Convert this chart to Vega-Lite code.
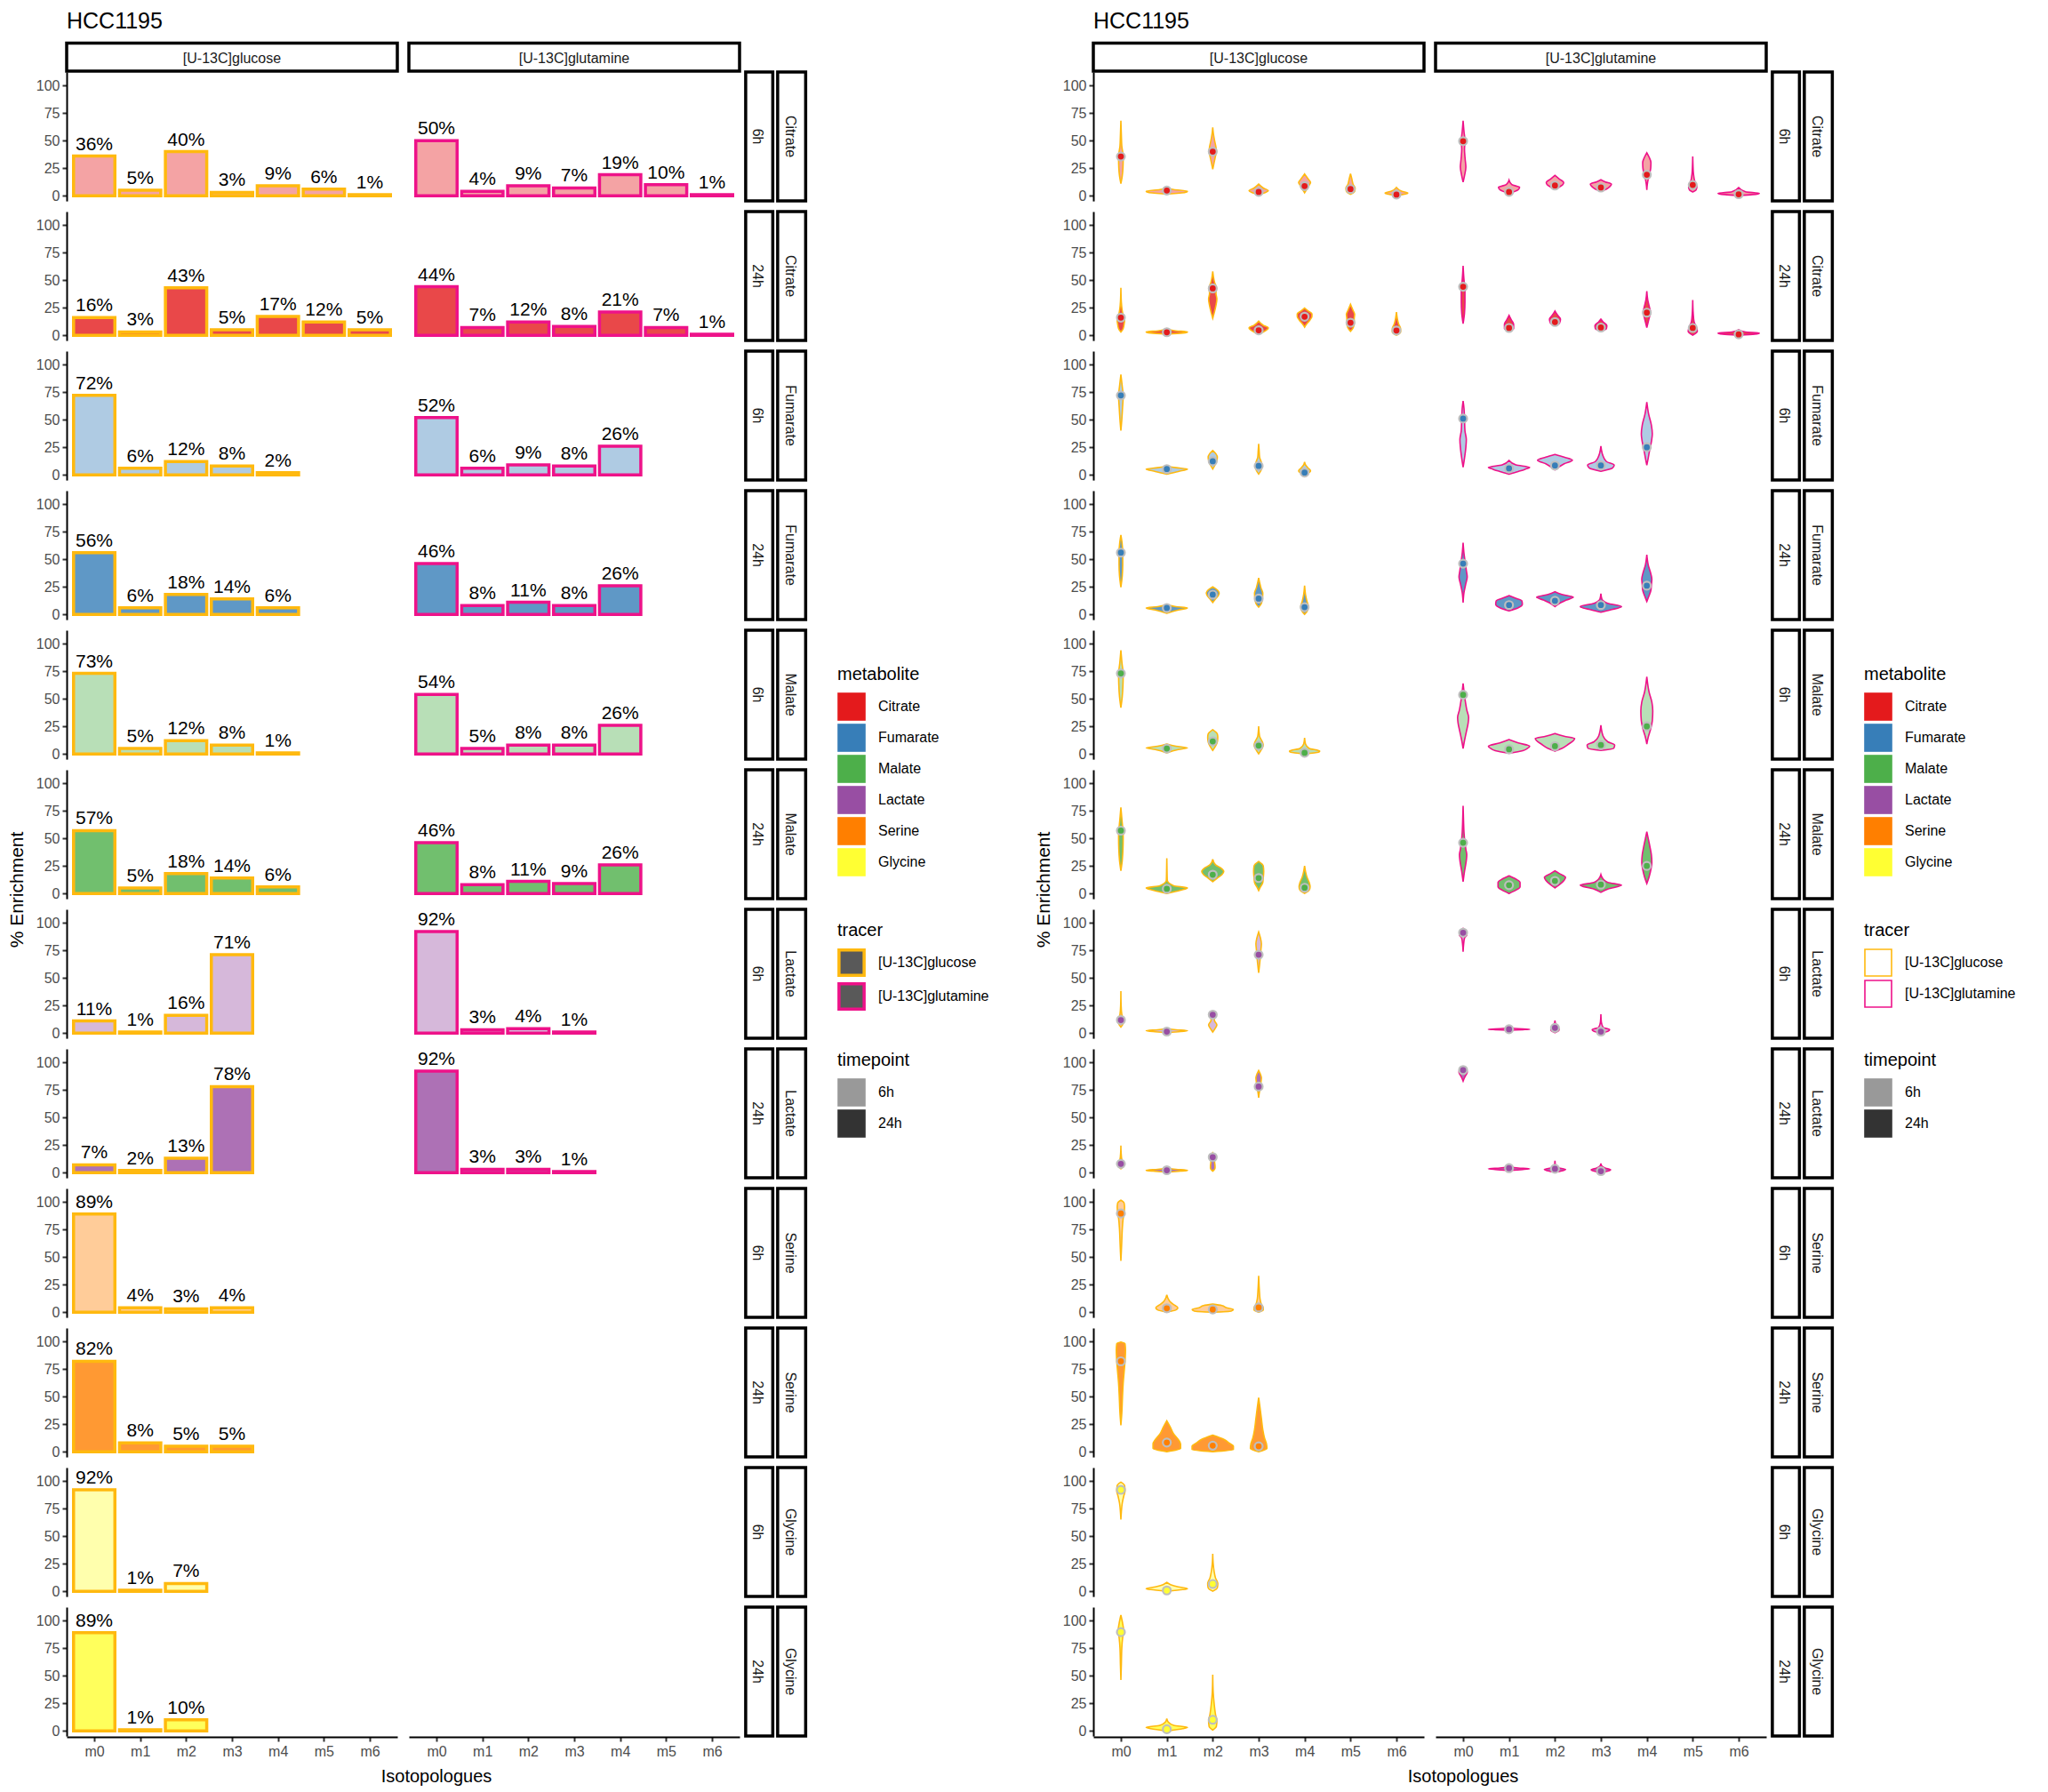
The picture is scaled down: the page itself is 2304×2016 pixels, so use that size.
{
  "$schema": "https://vega.github.io/schema/vega-lite/v6.json",
  "background": "white",
  "padding": {"left": 8, "top": 11, "right": 0, "bottom": 0},
  "config": {
    "font": "Liberation Sans",
    "view": {"stroke": null},
    "axis": {"grid": false, "domainColor": "black", "domainWidth": 2, "tickColor": "#333333", "tickWidth": 2, "tickSize": 5, "labelColor": "#4D4D4D", "labelFontSize": 16, "labelPadding": 3, "labelOverlap": false},
    "legend": {"titleFontSize": 20, "titleFontWeight": "normal", "titleColor": "black", "labelFontSize": 16, "labelColor": "black", "symbolType": "square", "symbolSize": 1000, "rowPadding": 3, "labelOffset": 14, "titlePadding": 10},
    "title": {"fontSize": 25, "fontWeight": "normal", "anchor": "start", "frame": "group", "color": "black", "offset": 10},
    "concat": {"spacing": 50}
  },
  "datasets": {
    "bars": [
      {"row":"01|Citrate|6h","met":"Citrate","tp":"6h","tr":"[U-13C]glucose","i":0,"v":0.36},
      {"row":"01|Citrate|6h","met":"Citrate","tp":"6h","tr":"[U-13C]glucose","i":1,"v":0.05},
      {"row":"01|Citrate|6h","met":"Citrate","tp":"6h","tr":"[U-13C]glucose","i":2,"v":0.40},
      {"row":"01|Citrate|6h","met":"Citrate","tp":"6h","tr":"[U-13C]glucose","i":3,"v":0.03},
      {"row":"01|Citrate|6h","met":"Citrate","tp":"6h","tr":"[U-13C]glucose","i":4,"v":0.09},
      {"row":"01|Citrate|6h","met":"Citrate","tp":"6h","tr":"[U-13C]glucose","i":5,"v":0.06},
      {"row":"01|Citrate|6h","met":"Citrate","tp":"6h","tr":"[U-13C]glucose","i":6,"v":0.01},
      {"row":"01|Citrate|6h","met":"Citrate","tp":"6h","tr":"[U-13C]glutamine","i":0,"v":0.50},
      {"row":"01|Citrate|6h","met":"Citrate","tp":"6h","tr":"[U-13C]glutamine","i":1,"v":0.04},
      {"row":"01|Citrate|6h","met":"Citrate","tp":"6h","tr":"[U-13C]glutamine","i":2,"v":0.09},
      {"row":"01|Citrate|6h","met":"Citrate","tp":"6h","tr":"[U-13C]glutamine","i":3,"v":0.07},
      {"row":"01|Citrate|6h","met":"Citrate","tp":"6h","tr":"[U-13C]glutamine","i":4,"v":0.19},
      {"row":"01|Citrate|6h","met":"Citrate","tp":"6h","tr":"[U-13C]glutamine","i":5,"v":0.10},
      {"row":"01|Citrate|6h","met":"Citrate","tp":"6h","tr":"[U-13C]glutamine","i":6,"v":0.01},
      {"row":"02|Citrate|24h","met":"Citrate","tp":"24h","tr":"[U-13C]glucose","i":0,"v":0.16},
      {"row":"02|Citrate|24h","met":"Citrate","tp":"24h","tr":"[U-13C]glucose","i":1,"v":0.03},
      {"row":"02|Citrate|24h","met":"Citrate","tp":"24h","tr":"[U-13C]glucose","i":2,"v":0.43},
      {"row":"02|Citrate|24h","met":"Citrate","tp":"24h","tr":"[U-13C]glucose","i":3,"v":0.05},
      {"row":"02|Citrate|24h","met":"Citrate","tp":"24h","tr":"[U-13C]glucose","i":4,"v":0.17},
      {"row":"02|Citrate|24h","met":"Citrate","tp":"24h","tr":"[U-13C]glucose","i":5,"v":0.12},
      {"row":"02|Citrate|24h","met":"Citrate","tp":"24h","tr":"[U-13C]glucose","i":6,"v":0.05},
      {"row":"02|Citrate|24h","met":"Citrate","tp":"24h","tr":"[U-13C]glutamine","i":0,"v":0.44},
      {"row":"02|Citrate|24h","met":"Citrate","tp":"24h","tr":"[U-13C]glutamine","i":1,"v":0.07},
      {"row":"02|Citrate|24h","met":"Citrate","tp":"24h","tr":"[U-13C]glutamine","i":2,"v":0.12},
      {"row":"02|Citrate|24h","met":"Citrate","tp":"24h","tr":"[U-13C]glutamine","i":3,"v":0.08},
      {"row":"02|Citrate|24h","met":"Citrate","tp":"24h","tr":"[U-13C]glutamine","i":4,"v":0.21},
      {"row":"02|Citrate|24h","met":"Citrate","tp":"24h","tr":"[U-13C]glutamine","i":5,"v":0.07},
      {"row":"02|Citrate|24h","met":"Citrate","tp":"24h","tr":"[U-13C]glutamine","i":6,"v":0.01},
      {"row":"03|Fumarate|6h","met":"Fumarate","tp":"6h","tr":"[U-13C]glucose","i":0,"v":0.72},
      {"row":"03|Fumarate|6h","met":"Fumarate","tp":"6h","tr":"[U-13C]glucose","i":1,"v":0.06},
      {"row":"03|Fumarate|6h","met":"Fumarate","tp":"6h","tr":"[U-13C]glucose","i":2,"v":0.12},
      {"row":"03|Fumarate|6h","met":"Fumarate","tp":"6h","tr":"[U-13C]glucose","i":3,"v":0.08},
      {"row":"03|Fumarate|6h","met":"Fumarate","tp":"6h","tr":"[U-13C]glucose","i":4,"v":0.02},
      {"row":"03|Fumarate|6h","met":"Fumarate","tp":"6h","tr":"[U-13C]glutamine","i":0,"v":0.52},
      {"row":"03|Fumarate|6h","met":"Fumarate","tp":"6h","tr":"[U-13C]glutamine","i":1,"v":0.06},
      {"row":"03|Fumarate|6h","met":"Fumarate","tp":"6h","tr":"[U-13C]glutamine","i":2,"v":0.09},
      {"row":"03|Fumarate|6h","met":"Fumarate","tp":"6h","tr":"[U-13C]glutamine","i":3,"v":0.08},
      {"row":"03|Fumarate|6h","met":"Fumarate","tp":"6h","tr":"[U-13C]glutamine","i":4,"v":0.26},
      {"row":"04|Fumarate|24h","met":"Fumarate","tp":"24h","tr":"[U-13C]glucose","i":0,"v":0.56},
      {"row":"04|Fumarate|24h","met":"Fumarate","tp":"24h","tr":"[U-13C]glucose","i":1,"v":0.06},
      {"row":"04|Fumarate|24h","met":"Fumarate","tp":"24h","tr":"[U-13C]glucose","i":2,"v":0.18},
      {"row":"04|Fumarate|24h","met":"Fumarate","tp":"24h","tr":"[U-13C]glucose","i":3,"v":0.14},
      {"row":"04|Fumarate|24h","met":"Fumarate","tp":"24h","tr":"[U-13C]glucose","i":4,"v":0.06},
      {"row":"04|Fumarate|24h","met":"Fumarate","tp":"24h","tr":"[U-13C]glutamine","i":0,"v":0.46},
      {"row":"04|Fumarate|24h","met":"Fumarate","tp":"24h","tr":"[U-13C]glutamine","i":1,"v":0.08},
      {"row":"04|Fumarate|24h","met":"Fumarate","tp":"24h","tr":"[U-13C]glutamine","i":2,"v":0.11},
      {"row":"04|Fumarate|24h","met":"Fumarate","tp":"24h","tr":"[U-13C]glutamine","i":3,"v":0.08},
      {"row":"04|Fumarate|24h","met":"Fumarate","tp":"24h","tr":"[U-13C]glutamine","i":4,"v":0.26},
      {"row":"05|Malate|6h","met":"Malate","tp":"6h","tr":"[U-13C]glucose","i":0,"v":0.73},
      {"row":"05|Malate|6h","met":"Malate","tp":"6h","tr":"[U-13C]glucose","i":1,"v":0.05},
      {"row":"05|Malate|6h","met":"Malate","tp":"6h","tr":"[U-13C]glucose","i":2,"v":0.12},
      {"row":"05|Malate|6h","met":"Malate","tp":"6h","tr":"[U-13C]glucose","i":3,"v":0.08},
      {"row":"05|Malate|6h","met":"Malate","tp":"6h","tr":"[U-13C]glucose","i":4,"v":0.01},
      {"row":"05|Malate|6h","met":"Malate","tp":"6h","tr":"[U-13C]glutamine","i":0,"v":0.54},
      {"row":"05|Malate|6h","met":"Malate","tp":"6h","tr":"[U-13C]glutamine","i":1,"v":0.05},
      {"row":"05|Malate|6h","met":"Malate","tp":"6h","tr":"[U-13C]glutamine","i":2,"v":0.08},
      {"row":"05|Malate|6h","met":"Malate","tp":"6h","tr":"[U-13C]glutamine","i":3,"v":0.08},
      {"row":"05|Malate|6h","met":"Malate","tp":"6h","tr":"[U-13C]glutamine","i":4,"v":0.26},
      {"row":"06|Malate|24h","met":"Malate","tp":"24h","tr":"[U-13C]glucose","i":0,"v":0.57},
      {"row":"06|Malate|24h","met":"Malate","tp":"24h","tr":"[U-13C]glucose","i":1,"v":0.05},
      {"row":"06|Malate|24h","met":"Malate","tp":"24h","tr":"[U-13C]glucose","i":2,"v":0.18},
      {"row":"06|Malate|24h","met":"Malate","tp":"24h","tr":"[U-13C]glucose","i":3,"v":0.14},
      {"row":"06|Malate|24h","met":"Malate","tp":"24h","tr":"[U-13C]glucose","i":4,"v":0.06},
      {"row":"06|Malate|24h","met":"Malate","tp":"24h","tr":"[U-13C]glutamine","i":0,"v":0.46},
      {"row":"06|Malate|24h","met":"Malate","tp":"24h","tr":"[U-13C]glutamine","i":1,"v":0.08},
      {"row":"06|Malate|24h","met":"Malate","tp":"24h","tr":"[U-13C]glutamine","i":2,"v":0.11},
      {"row":"06|Malate|24h","met":"Malate","tp":"24h","tr":"[U-13C]glutamine","i":3,"v":0.09},
      {"row":"06|Malate|24h","met":"Malate","tp":"24h","tr":"[U-13C]glutamine","i":4,"v":0.26},
      {"row":"07|Lactate|6h","met":"Lactate","tp":"6h","tr":"[U-13C]glucose","i":0,"v":0.11},
      {"row":"07|Lactate|6h","met":"Lactate","tp":"6h","tr":"[U-13C]glucose","i":1,"v":0.01},
      {"row":"07|Lactate|6h","met":"Lactate","tp":"6h","tr":"[U-13C]glucose","i":2,"v":0.16},
      {"row":"07|Lactate|6h","met":"Lactate","tp":"6h","tr":"[U-13C]glucose","i":3,"v":0.71},
      {"row":"07|Lactate|6h","met":"Lactate","tp":"6h","tr":"[U-13C]glutamine","i":0,"v":0.92},
      {"row":"07|Lactate|6h","met":"Lactate","tp":"6h","tr":"[U-13C]glutamine","i":1,"v":0.03},
      {"row":"07|Lactate|6h","met":"Lactate","tp":"6h","tr":"[U-13C]glutamine","i":2,"v":0.04},
      {"row":"07|Lactate|6h","met":"Lactate","tp":"6h","tr":"[U-13C]glutamine","i":3,"v":0.01},
      {"row":"08|Lactate|24h","met":"Lactate","tp":"24h","tr":"[U-13C]glucose","i":0,"v":0.07},
      {"row":"08|Lactate|24h","met":"Lactate","tp":"24h","tr":"[U-13C]glucose","i":1,"v":0.02},
      {"row":"08|Lactate|24h","met":"Lactate","tp":"24h","tr":"[U-13C]glucose","i":2,"v":0.13},
      {"row":"08|Lactate|24h","met":"Lactate","tp":"24h","tr":"[U-13C]glucose","i":3,"v":0.78},
      {"row":"08|Lactate|24h","met":"Lactate","tp":"24h","tr":"[U-13C]glutamine","i":0,"v":0.92},
      {"row":"08|Lactate|24h","met":"Lactate","tp":"24h","tr":"[U-13C]glutamine","i":1,"v":0.03},
      {"row":"08|Lactate|24h","met":"Lactate","tp":"24h","tr":"[U-13C]glutamine","i":2,"v":0.03},
      {"row":"08|Lactate|24h","met":"Lactate","tp":"24h","tr":"[U-13C]glutamine","i":3,"v":0.01},
      {"row":"09|Serine|6h","met":"Serine","tp":"6h","tr":"[U-13C]glucose","i":0,"v":0.89},
      {"row":"09|Serine|6h","met":"Serine","tp":"6h","tr":"[U-13C]glucose","i":1,"v":0.04},
      {"row":"09|Serine|6h","met":"Serine","tp":"6h","tr":"[U-13C]glucose","i":2,"v":0.03},
      {"row":"09|Serine|6h","met":"Serine","tp":"6h","tr":"[U-13C]glucose","i":3,"v":0.04},
      {"row":"10|Serine|24h","met":"Serine","tp":"24h","tr":"[U-13C]glucose","i":0,"v":0.82},
      {"row":"10|Serine|24h","met":"Serine","tp":"24h","tr":"[U-13C]glucose","i":1,"v":0.08},
      {"row":"10|Serine|24h","met":"Serine","tp":"24h","tr":"[U-13C]glucose","i":2,"v":0.05},
      {"row":"10|Serine|24h","met":"Serine","tp":"24h","tr":"[U-13C]glucose","i":3,"v":0.05},
      {"row":"11|Glycine|6h","met":"Glycine","tp":"6h","tr":"[U-13C]glucose","i":0,"v":0.92},
      {"row":"11|Glycine|6h","met":"Glycine","tp":"6h","tr":"[U-13C]glucose","i":1,"v":0.01},
      {"row":"11|Glycine|6h","met":"Glycine","tp":"6h","tr":"[U-13C]glucose","i":2,"v":0.07},
      {"row":"12|Glycine|24h","met":"Glycine","tp":"24h","tr":"[U-13C]glucose","i":0,"v":0.89},
      {"row":"12|Glycine|24h","met":"Glycine","tp":"24h","tr":"[U-13C]glucose","i":1,"v":0.01},
      {"row":"12|Glycine|24h","met":"Glycine","tp":"24h","tr":"[U-13C]glucose","i":2,"v":0.10}
    ],
    "violins": [
      {"row":"01|Citrate|6h","met":"Citrate","tp":"6h","tr":"[U-13C]glucose","i":0,"md":0.355,"y":[0.11,0.18,0.25,0.33,0.38,0.45,0.55,0.68],"w":[0,0.03,0.045,0.05,0.045,0.02,0.01,0]},
      {"row":"01|Citrate|6h","met":"Citrate","tp":"6h","tr":"[U-13C]glucose","i":1,"md":0.047,"y":[0.015,0.03,0.04,0.055,0.075],"w":[0,0.4,0.45,0.15,0]},
      {"row":"01|Citrate|6h","met":"Citrate","tp":"6h","tr":"[U-13C]glucose","i":2,"md":0.40,"y":[0.24,0.3,0.36,0.4,0.44,0.5,0.56,0.62],"w":[0,0.03,0.06,0.08,0.07,0.04,0.015,0]},
      {"row":"01|Citrate|6h","met":"Citrate","tp":"6h","tr":"[U-13C]glucose","i":3,"md":0.034,"y":[0.012,0.03,0.045,0.07,0.105],"w":[0,0.15,0.21,0.1,0]},
      {"row":"01|Citrate|6h","met":"Citrate","tp":"6h","tr":"[U-13C]glucose","i":4,"md":0.087,"y":[0.026,0.06,0.09,0.12,0.15,0.197],"w":[0,0.05,0.09,0.13,0.08,0]},
      {"row":"01|Citrate|6h","met":"Citrate","tp":"6h","tr":"[U-13C]glucose","i":5,"md":0.06,"y":[0.013,0.04,0.07,0.1,0.15,0.2],"w":[0,0.09,0.1,0.06,0.03,0]},
      {"row":"01|Citrate|6h","met":"Citrate","tp":"6h","tr":"[U-13C]glucose","i":6,"md":0.01,"y":[0.003,0.015,0.025,0.04,0.075],"w":[0,0.2,0.25,0.12,0]},
      {"row":"01|Citrate|6h","met":"Citrate","tp":"6h","tr":"[U-13C]glutamine","i":0,"md":0.495,"y":[0.124,0.18,0.26,0.33,0.42,0.5,0.58,0.68],"w":[0,0.03,0.06,0.045,0.03,0.04,0.02,0]},
      {"row":"01|Citrate|6h","met":"Citrate","tp":"6h","tr":"[U-13C]glutamine","i":1,"md":0.034,"y":[0.013,0.03,0.055,0.075,0.1,0.14],"w":[0,0.08,0.2,0.23,0.06,0]},
      {"row":"01|Citrate|6h","met":"Citrate","tp":"6h","tr":"[U-13C]glutamine","i":2,"md":0.092,"y":[0.058,0.08,0.1,0.12,0.15,0.184],"w":[0,0.1,0.17,0.19,0.1,0]},
      {"row":"01|Citrate|6h","met":"Citrate","tp":"6h","tr":"[U-13C]glutamine","i":3,"md":0.074,"y":[0.04,0.06,0.085,0.105,0.125,0.145],"w":[0,0.12,0.2,0.23,0.1,0]},
      {"row":"01|Citrate|6h","met":"Citrate","tp":"6h","tr":"[U-13C]glutamine","i":4,"md":0.19,"y":[0.053,0.1,0.15,0.2,0.25,0.3,0.35,0.39],"w":[0,0.01,0.03,0.06,0.085,0.09,0.05,0]},
      {"row":"01|Citrate|6h","met":"Citrate","tp":"6h","tr":"[U-13C]glutamine","i":5,"md":0.097,"y":[0.034,0.05,0.08,0.12,0.2,0.28,0.355],"w":[0,0.07,0.09,0.05,0.015,0.005,0]},
      {"row":"01|Citrate|6h","met":"Citrate","tp":"6h","tr":"[U-13C]glutamine","i":6,"md":0.013,"y":[0.002,0.01,0.02,0.035,0.074],"w":[0,0.3,0.45,0.15,0]},
      {"row":"02|Citrate|24h","met":"Citrate","tp":"24h","tr":"[U-13C]glucose","i":0,"md":0.16,"y":[0.03,0.06,0.1,0.13,0.16,0.2,0.3,0.43],"w":[0,0.05,0.07,0.08,0.07,0.04,0.01,0]},
      {"row":"02|Citrate|24h","met":"Citrate","tp":"24h","tr":"[U-13C]glucose","i":1,"md":0.027,"y":[0.01,0.02,0.03,0.04,0.06],"w":[0,0.35,0.45,0.2,0]},
      {"row":"02|Citrate|24h","met":"Citrate","tp":"24h","tr":"[U-13C]glucose","i":2,"md":0.425,"y":[0.154,0.2,0.27,0.33,0.38,0.43,0.48,0.58],"w":[0,0.03,0.07,0.09,0.07,0.08,0.04,0]},
      {"row":"02|Citrate|24h","met":"Citrate","tp":"24h","tr":"[U-13C]glucose","i":3,"md":0.045,"y":[0.013,0.03,0.05,0.066,0.09,0.128],"w":[0,0.1,0.18,0.21,0.1,0]},
      {"row":"02|Citrate|24h","met":"Citrate","tp":"24h","tr":"[U-13C]glucose","i":4,"md":0.168,"y":[0.074,0.1,0.14,0.17,0.194,0.22,0.247],"w":[0,0.04,0.12,0.16,0.16,0.08,0]},
      {"row":"02|Citrate|24h","met":"Citrate","tp":"24h","tr":"[U-13C]glucose","i":5,"md":0.114,"y":[0.035,0.07,0.11,0.15,0.19,0.23,0.28],"w":[0,0.06,0.08,0.08,0.09,0.05,0]},
      {"row":"02|Citrate|24h","met":"Citrate","tp":"24h","tr":"[U-13C]glucose","i":6,"md":0.043,"y":[0,0.03,0.06,0.1,0.15,0.21],"w":[0,0.09,0.09,0.05,0.02,0]},
      {"row":"02|Citrate|24h","met":"Citrate","tp":"24h","tr":"[U-13C]glutamine","i":0,"md":0.44,"y":[0.106,0.2,0.3,0.4,0.44,0.5,0.63],"w":[0,0.03,0.04,0.04,0.035,0.02,0]},
      {"row":"02|Citrate|24h","met":"Citrate","tp":"24h","tr":"[U-13C]glutamine","i":1,"md":0.066,"y":[0.04,0.06,0.1,0.14,0.18],"w":[0,0.1,0.1,0.05,0]},
      {"row":"02|Citrate|24h","met":"Citrate","tp":"24h","tr":"[U-13C]glutamine","i":2,"md":0.12,"y":[0.088,0.11,0.146,0.18,0.22],"w":[0,0.1,0.12,0.06,0]},
      {"row":"02|Citrate|24h","met":"Citrate","tp":"24h","tr":"[U-13C]glutamine","i":3,"md":0.07,"y":[0.04,0.06,0.088,0.12,0.146],"w":[0,0.12,0.13,0.05,0]},
      {"row":"02|Citrate|24h","met":"Citrate","tp":"24h","tr":"[U-13C]glutamine","i":4,"md":0.205,"y":[0.07,0.12,0.17,0.207,0.25,0.32,0.4],"w":[0,0.03,0.06,0.08,0.06,0.02,0]},
      {"row":"02|Citrate|24h","met":"Citrate","tp":"24h","tr":"[U-13C]glutamine","i":5,"md":0.066,"y":[0,0.035,0.07,0.12,0.2,0.32],"w":[0,0.1,0.08,0.03,0.01,0]},
      {"row":"02|Citrate|24h","met":"Citrate","tp":"24h","tr":"[U-13C]glutamine","i":6,"md":0.008,"y":[0,0.01,0.02,0.03,0.05],"w":[0,0.35,0.45,0.15,0]},
      {"row":"03|Fumarate|6h","met":"Fumarate","tp":"6h","tr":"[U-13C]glucose","i":0,"md":0.72,"y":[0.4,0.5,0.6,0.72,0.8,0.91],"w":[0,0.02,0.035,0.05,0.03,0]},
      {"row":"03|Fumarate|6h","met":"Fumarate","tp":"6h","tr":"[U-13C]glucose","i":1,"md":0.052,"y":[0.006,0.03,0.052,0.065,0.078],"w":[0,0.25,0.45,0.2,0]},
      {"row":"03|Fumarate|6h","met":"Fumarate","tp":"6h","tr":"[U-13C]glucose","i":2,"md":0.123,"y":[0.052,0.09,0.13,0.16,0.19,0.22],"w":[0,0.05,0.09,0.1,0.07,0]},
      {"row":"03|Fumarate|6h","met":"Fumarate","tp":"6h","tr":"[U-13C]glucose","i":3,"md":0.08,"y":[0.006,0.04,0.08,0.11,0.16,0.22,0.28],"w":[0,0.05,0.07,0.06,0.02,0.01,0]},
      {"row":"03|Fumarate|6h","met":"Fumarate","tp":"6h","tr":"[U-13C]glucose","i":4,"md":0.02,"y":[0,0.02,0.036,0.06,0.09,0.117],"w":[0,0.1,0.13,0.08,0.02,0]},
      {"row":"03|Fumarate|6h","met":"Fumarate","tp":"6h","tr":"[U-13C]glutamine","i":0,"md":0.51,"y":[0.068,0.15,0.25,0.32,0.4,0.51,0.6,0.67],"w":[0,0.03,0.06,0.07,0.04,0.03,0.02,0]},
      {"row":"03|Fumarate|6h","met":"Fumarate","tp":"6h","tr":"[U-13C]glutamine","i":1,"md":0.058,"y":[0.006,0.03,0.05,0.068,0.09,0.13],"w":[0,0.2,0.35,0.45,0.15,0]},
      {"row":"03|Fumarate|6h","met":"Fumarate","tp":"6h","tr":"[U-13C]glutamine","i":2,"md":0.084,"y":[0.045,0.07,0.1,0.133,0.16,0.184],"w":[0,0.08,0.2,0.38,0.2,0]},
      {"row":"03|Fumarate|6h","met":"Fumarate","tp":"6h","tr":"[U-13C]glutamine","i":3,"md":0.084,"y":[0.032,0.06,0.087,0.12,0.18,0.26],"w":[0,0.25,0.29,0.12,0.04,0]},
      {"row":"03|Fumarate|6h","met":"Fumarate","tp":"6h","tr":"[U-13C]glutamine","i":4,"md":0.25,"y":[0.087,0.15,0.22,0.3,0.37,0.45,0.55,0.66],"w":[0,0.03,0.06,0.1,0.12,0.1,0.04,0]},
      {"row":"04|Fumarate|24h","met":"Fumarate","tp":"24h","tr":"[U-13C]glucose","i":0,"md":0.56,"y":[0.247,0.35,0.45,0.56,0.65,0.72],"w":[0,0.03,0.04,0.04,0.025,0]},
      {"row":"04|Fumarate|24h","met":"Fumarate","tp":"24h","tr":"[U-13C]glucose","i":1,"md":0.058,"y":[0.01,0.04,0.058,0.07,0.085],"w":[0,0.25,0.45,0.2,0]},
      {"row":"04|Fumarate|24h","met":"Fumarate","tp":"24h","tr":"[U-13C]glucose","i":2,"md":0.179,"y":[0.107,0.14,0.17,0.195,0.22,0.25],"w":[0,0.06,0.12,0.14,0.1,0]},
      {"row":"04|Fumarate|24h","met":"Fumarate","tp":"24h","tr":"[U-13C]glucose","i":3,"md":0.143,"y":[0.065,0.1,0.14,0.19,0.24,0.33],"w":[0,0.06,0.08,0.09,0.05,0]},
      {"row":"04|Fumarate|24h","met":"Fumarate","tp":"24h","tr":"[U-13C]glucose","i":4,"md":0.065,"y":[0,0.04,0.075,0.12,0.18,0.26],"w":[0,0.07,0.08,0.05,0.02,0]},
      {"row":"04|Fumarate|24h","met":"Fumarate","tp":"24h","tr":"[U-13C]glutamine","i":0,"md":0.46,"y":[0.107,0.2,0.28,0.34,0.4,0.46,0.55,0.65],"w":[0,0.02,0.06,0.09,0.07,0.05,0.02,0]},
      {"row":"04|Fumarate|24h","met":"Fumarate","tp":"24h","tr":"[U-13C]glutamine","i":1,"md":0.084,"y":[0.032,0.06,0.09,0.123,0.15,0.17],"w":[0,0.2,0.29,0.28,0.12,0]},
      {"row":"04|Fumarate|24h","met":"Fumarate","tp":"24h","tr":"[U-13C]glutamine","i":2,"md":0.123,"y":[0.07,0.1,0.13,0.156,0.18,0.205],"w":[0,0.1,0.25,0.4,0.15,0]},
      {"row":"04|Fumarate|24h","met":"Fumarate","tp":"24h","tr":"[U-13C]glutamine","i":3,"md":0.084,"y":[0.02,0.04,0.07,0.1,0.14,0.188],"w":[0,0.2,0.45,0.15,0.02,0]},
      {"row":"04|Fumarate|24h","met":"Fumarate","tp":"24h","tr":"[U-13C]glutamine","i":4,"md":0.26,"y":[0.117,0.17,0.22,0.27,0.32,0.38,0.45,0.54],"w":[0,0.05,0.09,0.1,0.11,0.08,0.03,0]},
      {"row":"05|Malate|6h","met":"Malate","tp":"6h","tr":"[U-13C]glucose","i":0,"md":0.73,"y":[0.42,0.52,0.62,0.73,0.82,0.94],"w":[0,0.03,0.045,0.05,0.025,0]},
      {"row":"05|Malate|6h","met":"Malate","tp":"6h","tr":"[U-13C]glucose","i":1,"md":0.049,"y":[0.01,0.04,0.055,0.07,0.09],"w":[0,0.25,0.45,0.2,0]},
      {"row":"05|Malate|6h","met":"Malate","tp":"6h","tr":"[U-13C]glucose","i":2,"md":0.114,"y":[0.032,0.07,0.11,0.15,0.18,0.22],"w":[0,0.06,0.1,0.11,0.1,0]},
      {"row":"05|Malate|6h","met":"Malate","tp":"6h","tr":"[U-13C]glucose","i":3,"md":0.075,"y":[0,0.04,0.08,0.11,0.16,0.25],"w":[0,0.06,0.1,0.08,0.02,0]},
      {"row":"05|Malate|6h","met":"Malate","tp":"6h","tr":"[U-13C]glucose","i":4,"md":0.01,"y":[0,0.015,0.026,0.05,0.09,0.146],"w":[0,0.3,0.33,0.1,0.02,0]},
      {"row":"05|Malate|6h","met":"Malate","tp":"6h","tr":"[U-13C]glutamine","i":0,"md":0.536,"y":[0.049,0.12,0.2,0.28,0.33,0.4,0.5,0.64],"w":[0,0.03,0.07,0.11,0.12,0.08,0.04,0]},
      {"row":"05|Malate|6h","met":"Malate","tp":"6h","tr":"[U-13C]glutamine","i":1,"md":0.042,"y":[0.006,0.03,0.05,0.07,0.1,0.13],"w":[0,0.3,0.4,0.45,0.2,0]},
      {"row":"05|Malate|6h","met":"Malate","tp":"6h","tr":"[U-13C]glutamine","i":2,"md":0.07,"y":[0.026,0.05,0.09,0.12,0.14,0.16,0.185],"w":[0,0.15,0.3,0.4,0.43,0.2,0]},
      {"row":"05|Malate|6h","met":"Malate","tp":"6h","tr":"[U-13C]glutamine","i":3,"md":0.08,"y":[0.032,0.05,0.08,0.11,0.16,0.26],"w":[0,0.28,0.3,0.15,0.05,0]},
      {"row":"05|Malate|6h","met":"Malate","tp":"6h","tr":"[U-13C]glutamine","i":4,"md":0.25,"y":[0.09,0.15,0.22,0.3,0.39,0.47,0.56,0.7],"w":[0,0.03,0.08,0.12,0.13,0.11,0.05,0]},
      {"row":"06|Malate|24h","met":"Malate","tp":"24h","tr":"[U-13C]glucose","i":0,"md":0.57,"y":[0.205,0.3,0.4,0.51,0.57,0.66,0.78],"w":[0,0.03,0.045,0.05,0.045,0.025,0]},
      {"row":"06|Malate|24h","met":"Malate","tp":"24h","tr":"[U-13C]glucose","i":1,"md":0.042,"y":[0,0.03,0.05,0.07,0.12,0.2,0.32],"w":[0,0.3,0.45,0.15,0.01,0.005,0]},
      {"row":"06|Malate|24h","met":"Malate","tp":"24h","tr":"[U-13C]glucose","i":2,"md":0.17,"y":[0.107,0.14,0.17,0.2,0.23,0.26,0.31],"w":[0,0.1,0.2,0.24,0.18,0.06,0]},
      {"row":"06|Malate|24h","met":"Malate","tp":"24h","tr":"[U-13C]glucose","i":3,"md":0.14,"y":[0.026,0.06,0.1,0.14,0.2,0.25,0.29],"w":[0,0.04,0.09,0.1,0.11,0.1,0]},
      {"row":"06|Malate|24h","met":"Malate","tp":"24h","tr":"[U-13C]glucose","i":4,"md":0.052,"y":[0,0.03,0.06,0.1,0.15,0.2,0.25],"w":[0,0.1,0.12,0.1,0.05,0.02,0]},
      {"row":"06|Malate|24h","met":"Malate","tp":"24h","tr":"[U-13C]glutamine","i":0,"md":0.46,"y":[0.107,0.2,0.3,0.35,0.4,0.46,0.55,0.65,0.795],"w":[0,0.03,0.07,0.08,0.06,0.04,0.02,0.01,0]},
      {"row":"06|Malate|24h","met":"Malate","tp":"24h","tr":"[U-13C]glutamine","i":1,"md":0.075,"y":[0,0.03,0.06,0.1,0.13,0.16],"w":[0,0.15,0.24,0.24,0.15,0]},
      {"row":"06|Malate|24h","met":"Malate","tp":"24h","tr":"[U-13C]glutamine","i":2,"md":0.114,"y":[0.05,0.08,0.12,0.146,0.18,0.205],"w":[0,0.1,0.2,0.23,0.1,0]},
      {"row":"06|Malate|24h","met":"Malate","tp":"24h","tr":"[U-13C]glutamine","i":3,"md":0.08,"y":[0.01,0.04,0.075,0.1,0.13,0.17],"w":[0,0.15,0.45,0.15,0.05,0]},
      {"row":"06|Malate|24h","met":"Malate","tp":"24h","tr":"[U-13C]glutamine","i":4,"md":0.25,"y":[0.09,0.15,0.22,0.28,0.35,0.42,0.5,0.56],"w":[0,0.05,0.09,0.11,0.1,0.07,0.03,0]},
      {"row":"07|Lactate|6h","met":"Lactate","tp":"6h","tr":"[U-13C]glucose","i":0,"md":0.118,"y":[0.053,0.09,0.126,0.17,0.25,0.38],"w":[0,0.05,0.05,0.02,0.005,0]},
      {"row":"07|Lactate|6h","met":"Lactate","tp":"6h","tr":"[U-13C]glucose","i":1,"md":0.013,"y":[0.005,0.013,0.021,0.03,0.04],"w":[0,0.3,0.45,0.2,0]},
      {"row":"07|Lactate|6h","met":"Lactate","tp":"6h","tr":"[U-13C]glucose","i":2,"md":0.166,"y":[0.008,0.04,0.074,0.11,0.15,0.19],"w":[0,0.05,0.09,0.04,0.03,0]},
      {"row":"07|Lactate|6h","met":"Lactate","tp":"6h","tr":"[U-13C]glucose","i":3,"md":0.71,"y":[0.547,0.62,0.71,0.76,0.81,0.86,0.916],"w":[0,0.02,0.04,0.05,0.06,0.04,0]},
      {"row":"07|Lactate|6h","met":"Lactate","tp":"6h","tr":"[U-13C]glutamine","i":0,"md":0.91,"y":[0.737,0.8,0.86,0.89,0.92,0.95],"w":[0,0.01,0.03,0.08,0.07,0]},
      {"row":"07|Lactate|6h","met":"Lactate","tp":"6h","tr":"[U-13C]glutamine","i":1,"md":0.034,"y":[0.025,0.03,0.034,0.04,0.045],"w":[0,0.3,0.45,0.2,0]},
      {"row":"07|Lactate|6h","met":"Lactate","tp":"6h","tr":"[U-13C]glutamine","i":2,"md":0.047,"y":[0.003,0.02,0.034,0.06,0.09,0.113],"w":[0,0.08,0.09,0.05,0.01,0]},
      {"row":"07|Lactate|6h","met":"Lactate","tp":"6h","tr":"[U-13C]glutamine","i":3,"md":0.013,"y":[0,0.015,0.03,0.05,0.1,0.17],"w":[0,0.15,0.19,0.05,0.01,0]},
      {"row":"08|Lactate|24h","met":"Lactate","tp":"24h","tr":"[U-13C]glucose","i":0,"md":0.079,"y":[0.034,0.06,0.087,0.12,0.18,0.246],"w":[0,0.05,0.05,0.02,0.005,0]},
      {"row":"08|Lactate|24h","met":"Lactate","tp":"24h","tr":"[U-13C]glucose","i":1,"md":0.021,"y":[0.005,0.013,0.02,0.03,0.04],"w":[0,0.3,0.45,0.2,0]},
      {"row":"08|Lactate|24h","met":"Lactate","tp":"24h","tr":"[U-13C]glucose","i":2,"md":0.14,"y":[0.013,0.04,0.06,0.1,0.14,0.18],"w":[0,0.05,0.05,0.04,0.04,0]},
      {"row":"08|Lactate|24h","met":"Lactate","tp":"24h","tr":"[U-13C]glucose","i":3,"md":0.78,"y":[0.68,0.74,0.78,0.82,0.86,0.89,0.926],"w":[0,0.02,0.04,0.05,0.06,0.04,0]},
      {"row":"08|Lactate|24h","met":"Lactate","tp":"24h","tr":"[U-13C]glutamine","i":0,"md":0.93,"y":[0.83,0.86,0.89,0.91,0.93,0.96],"w":[0,0.03,0.07,0.09,0.08,0]},
      {"row":"08|Lactate|24h","met":"Lactate","tp":"24h","tr":"[U-13C]glutamine","i":1,"md":0.04,"y":[0.02,0.028,0.035,0.042,0.05],"w":[0,0.3,0.45,0.2,0]},
      {"row":"08|Lactate|24h","met":"Lactate","tp":"24h","tr":"[U-13C]glutamine","i":2,"md":0.034,"y":[0.003,0.015,0.029,0.045,0.07,0.108],"w":[0,0.15,0.23,0.06,0.01,0]},
      {"row":"08|Lactate|24h","met":"Lactate","tp":"24h","tr":"[U-13C]glutamine","i":3,"md":0.013,"y":[0,0.013,0.026,0.04,0.06,0.082],"w":[0,0.15,0.21,0.1,0.02,0]},
      {"row":"09|Serine|6h","met":"Serine","tp":"6h","tr":"[U-13C]glucose","i":0,"md":0.895,"y":[0.465,0.55,0.65,0.75,0.85,0.9,0.95,0.99,1.015],"w":[0,0.01,0.02,0.03,0.05,0.07,0.08,0.07,0]},
      {"row":"09|Serine|6h","met":"Serine","tp":"6h","tr":"[U-13C]glucose","i":1,"md":0.035,"y":[0,0.02,0.04,0.07,0.1,0.157],"w":[0,0.2,0.24,0.14,0.06,0]},
      {"row":"09|Serine|6h","met":"Serine","tp":"6h","tr":"[U-13C]glucose","i":2,"md":0.024,"y":[0,0.01,0.025,0.04,0.06,0.073],"w":[0,0.4,0.45,0.3,0.2,0]},
      {"row":"09|Serine|6h","met":"Serine","tp":"6h","tr":"[U-13C]glucose","i":3,"md":0.042,"y":[0,0.02,0.04,0.07,0.12,0.2,0.33],"w":[0,0.1,0.1,0.06,0.03,0.015,0]},
      {"row":"10|Serine|24h","met":"Serine","tp":"24h","tr":"[U-13C]glucose","i":0,"md":0.82,"y":[0.24,0.35,0.5,0.62,0.72,0.82,0.92,0.98,0.995],"w":[0,0.02,0.035,0.05,0.07,0.09,0.1,0.09,0]},
      {"row":"10|Serine|24h","met":"Serine","tp":"24h","tr":"[U-13C]glucose","i":1,"md":0.083,"y":[0,0.03,0.07,0.11,0.16,0.22,0.28],"w":[0,0.3,0.3,0.25,0.15,0.08,0]},
      {"row":"10|Serine|24h","met":"Serine","tp":"24h","tr":"[U-13C]glucose","i":2,"md":0.055,"y":[0,0.02,0.05,0.08,0.11,0.15],"w":[0,0.45,0.45,0.35,0.25,0]},
      {"row":"10|Serine|24h","met":"Serine","tp":"24h","tr":"[U-13C]glucose","i":3,"md":0.049,"y":[0,0.03,0.07,0.12,0.2,0.3,0.4,0.49],"w":[0,0.18,0.17,0.13,0.09,0.06,0.03,0]},
      {"row":"11|Glycine|6h","met":"Glycine","tp":"6h","tr":"[U-13C]glucose","i":0,"md":0.92,"y":[0.65,0.72,0.8,0.86,0.91,0.96,0.99],"w":[0,0.01,0.03,0.06,0.09,0.08,0]},
      {"row":"11|Glycine|6h","met":"Glycine","tp":"6h","tr":"[U-13C]glucose","i":1,"md":0.007,"y":[0,0.015,0.024,0.04,0.06,0.08],"w":[0,0.35,0.45,0.25,0.08,0]},
      {"row":"11|Glycine|6h","met":"Glycine","tp":"6h","tr":"[U-13C]glucose","i":2,"md":0.066,"y":[0,0.03,0.07,0.12,0.18,0.25,0.34],"w":[0,0.1,0.11,0.06,0.03,0.01,0]},
      {"row":"12|Glycine|24h","met":"Glycine","tp":"24h","tr":"[U-13C]glucose","i":0,"md":0.895,"y":[0.46,0.6,0.75,0.85,0.91,0.97,1.05],"w":[0,0.01,0.02,0.04,0.06,0.04,0]},
      {"row":"12|Glycine|24h","met":"Glycine","tp":"24h","tr":"[U-13C]glucose","i":1,"md":0.014,"y":[0,0.02,0.031,0.05,0.08,0.11],"w":[0,0.35,0.45,0.15,0.03,0]},
      {"row":"12|Glycine|24h","met":"Glycine","tp":"24h","tr":"[U-13C]glucose","i":2,"md":0.10,"y":[0.007,0.04,0.09,0.15,0.25,0.35,0.51],"w":[0,0.08,0.09,0.06,0.03,0.01,0]}
    ]
  },
  "resolve": {
    "scale": {"fill": "independent", "stroke": "independent", "fillOpacity": "independent", "opacity": "independent"},
    "legend": {"fill": "independent", "stroke": "independent", "opacity": "independent"}
  },
  "hconcat": [
    {
      "title": "HCC1195",
      "data": {"name": "bars"},
      "bounds": "flush",
      "facet": {
        "row": {"field": "row", "type": "nominal", "title": "% Enrichment",
          "header": {"labelOrient": "right", "labelAngle": 90, "labelExpr": "slice(split(datum.value, '|'), 1)", "labelLineHeight": 36.5, "labelFontSize": 16, "labelColor": "#1A1A1A", "labelPadding": 12, "titleOrient": "left", "titleFontSize": 21, "titleFontWeight": "normal", "titleColor": "black", "titlePadding": 0}},
        "column": {"field": "tr", "type": "nominal", "title": "Isotopologues",
          "header": {"labelOrient": "top", "titleOrient": "bottom", "labelFontSize": 16, "labelColor": "#1A1A1A", "labelPadding": 7.5, "titleFontSize": 20, "titleFontWeight": "normal", "titleColor": "black", "titlePadding": 1}}
      },
      "spacing": {"row": 11, "column": 13},
      "spec": {
        "width": 372,
        "height": 145.1,
        "encoding": {
          "x": {"field": "i", "type": "quantitative", "scale": {"domain": [-0.6, 6.6], "nice": false, "zero": false, "padding": 0}, "axis": {"title": null, "values": [0,1,2,3,4,5,6], "labelExpr": "'m' + datum.value"}},
          "y": {"field": "v", "type": "quantitative", "scale": {"domain": [-0.048, 1.122], "nice": false, "zero": false, "padding": 0}, "axis": {"title": null, "values": [0, 0.25, 0.5, 0.75, 1], "labelExpr": "round(datum.value * 100)"}}
        },
        "layer": [
          {
            "mark": {"type": "bar", "orient": "vertical", "width": 46.5, "strokeWidth": 3.5},
            "encoding": {
              "fill": {"field": "met", "type": "nominal",
                "scale": {"domain": ["Citrate","Fumarate","Malate","Lactate","Serine","Glycine"], "range": ["#E41A1C","#377EB8","#4DAF4A","#984EA3","#FF7F00","#FFFF33"]},
                "legend": {"title": "metabolite", "orient": "none", "legendX": 867, "legendY": 668, "symbolOpacity": 1, "symbolStrokeWidth": 0}},
              "stroke": {"field": "tr", "type": "nominal",
                "scale": {"domain": ["[U-13C]glucose","[U-13C]glutamine"], "range": ["#FFB90F","#EE1289"]},
                "legend": {"title": "tracer", "orient": "none", "legendX": 867, "legendY": 956, "symbolFillColor": "#595959", "symbolStrokeWidth": 3.5, "symbolOpacity": 1, "symbolSize": 800, "rowPadding": -9}},
              "fillOpacity": {"field": "tp", "type": "nominal",
                "scale": {"domain": ["6h","24h"], "range": [0.4, 0.8]},
                "legend": null}
            }
          },
          {
            "mark": {"type": "text", "baseline": "bottom", "dy": -3, "fontSize": 21, "color": "black"},
            "encoding": {
              "text": {"field": "v", "type": "quantitative", "format": ".0%"}
            }
          },
          {
            "mark": {"type": "point", "shape": "square", "filled": true, "size": 0, "color": "black"},
            "encoding": {
              "opacity": {"field": "tp", "type": "nominal",
                "scale": {"domain": ["6h","24h"], "range": [0.4, 0.8]},
                "legend": {"title": "timepoint", "orient": "none", "legendX": 867, "legendY": 1102, "symbolType": "square", "symbolFillColor": "black", "symbolStrokeWidth": 0, "symbolSize": 1000}}
            }
          },
          {
            "transform": [{"filter": "datum.row == '01|Citrate|6h' && datum.i == 0"}],
            "mark": {"type": "rect", "filled": false, "color": "black", "strokeWidth": 3.5},
            "encoding": {
              "x": {"datum": -0.6, "type": "quantitative"},
              "x2": {"datum": 6.6},
              "y": {"datum": 1.13, "type": "quantitative"},
              "y2": {"datum": 1.385}
            }
          },
          {
            "transform": [{"filter": "datum.tr == '[U-13C]glucose' && datum.i == 0"}],
            "mark": {"type": "rect", "filled": false, "color": "black", "strokeWidth": 3.5},
            "encoding": {
              "x": {"datum": 14.185, "type": "quantitative"},
              "x2": {"datum": 14.775},
              "y": {"datum": -0.048, "type": "quantitative"},
              "y2": {"datum": 1.122}
            }
          },
          {
            "transform": [{"filter": "datum.tr == '[U-13C]glucose' && datum.i == 0"}],
            "mark": {"type": "rect", "filled": false, "color": "black", "strokeWidth": 3.5},
            "encoding": {
              "x": {"datum": 14.881, "type": "quantitative"},
              "x2": {"datum": 15.491},
              "y": {"datum": -0.048, "type": "quantitative"},
              "y2": {"datum": 1.122}
            }
          }
        ]
      }
    },
    {
      "title": "HCC1195",
      "data": {"name": "violins"},
      "bounds": "flush",
      "facet": {
        "row": {"field": "row", "type": "nominal", "title": "% Enrichment",
          "header": {"labelOrient": "right", "labelAngle": 90, "labelExpr": "slice(split(datum.value, '|'), 1)", "labelLineHeight": 36.5, "labelFontSize": 16, "labelColor": "#1A1A1A", "labelPadding": 12, "titleOrient": "left", "titleFontSize": 21, "titleFontWeight": "normal", "titleColor": "black", "titlePadding": 0}},
        "column": {"field": "tr", "type": "nominal", "title": "Isotopologues",
          "header": {"labelOrient": "top", "titleOrient": "bottom", "labelFontSize": 16, "labelColor": "#1A1A1A", "labelPadding": 7.5, "titleFontSize": 20, "titleFontWeight": "normal", "titleColor": "black", "titlePadding": 1}}
      },
      "spacing": {"row": 11, "column": 13},
      "spec": {
        "width": 372,
        "height": 145.1,
        "encoding": {
          "x": {"field": "i", "type": "quantitative", "scale": {"domain": [-0.6, 6.6], "nice": false, "zero": false, "padding": 0}, "axis": {"title": null, "values": [0,1,2,3,4,5,6], "labelExpr": "'m' + datum.value"}},
          "y": {"field": "md", "type": "quantitative", "scale": {"domain": [-0.048, 1.122], "nice": false, "zero": false, "padding": 0}, "axis": {"title": null, "values": [0, 0.25, 0.5, 0.75, 1], "labelExpr": "round(datum.value * 100)"}}
        },
        "layer": [
          {
            "transform": [
              {"flatten": ["y", "w"]},
              {"calculate": "datum.i - datum.w", "as": "lo"},
              {"calculate": "datum.i + datum.w", "as": "hi"}
            ],
            "mark": {"type": "area", "orient": "horizontal", "interpolate": "monotone", "strokeWidth": 1.6},
            "encoding": {
              "x": {"field": "lo", "type": "quantitative"},
              "x2": {"field": "hi"},
              "y": {"field": "y", "type": "quantitative"},
              "detail": {"field": "i"},
              "fill": {"field": "met", "type": "nominal",
                "scale": {"domain": ["Citrate","Fumarate","Malate","Lactate","Serine","Glycine"], "range": ["#E41A1C","#377EB8","#4DAF4A","#984EA3","#FF7F00","#FFFF33"]},
                "legend": {"title": "metabolite", "orient": "none", "legendX": 867, "legendY": 668, "symbolType": "square", "symbolOpacity": 1, "symbolStrokeWidth": 0}},
              "stroke": {"field": "tr", "type": "nominal",
                "scale": {"domain": ["[U-13C]glucose","[U-13C]glutamine"], "range": ["#FFB90F","#EE1289"]},
                "legend": {"title": "tracer", "orient": "none", "legendX": 867, "legendY": 956, "symbolFillColor": "white", "symbolStrokeWidth": 1.6, "symbolOpacity": 1, "symbolSize": 900, "rowPadding": -3}},
              "fillOpacity": {"field": "tp", "type": "nominal",
                "scale": {"domain": ["6h","24h"], "range": [0.4, 0.8]},
                "legend": null}
            }
          },
          {
            "mark": {"type": "point", "shape": "circle", "filled": true, "opacity": 1, "size": 80, "stroke": "#BEBEBE", "strokeWidth": 2.2},
            "encoding": {
              "fill": {"field": "met", "type": "nominal"}
            }
          },
          {
            "mark": {"type": "point", "shape": "square", "filled": true, "size": 0, "color": "black"},
            "encoding": {
              "opacity": {"field": "tp", "type": "nominal",
                "scale": {"domain": ["6h","24h"], "range": [0.4, 0.8]},
                "legend": {"title": "timepoint", "orient": "none", "legendX": 867, "legendY": 1102, "symbolType": "square", "symbolFillColor": "black", "symbolStrokeWidth": 0, "symbolSize": 1000}}
            }
          },
          {
            "transform": [{"filter": "datum.row == '01|Citrate|6h' && datum.i == 0"}],
            "mark": {"type": "rect", "filled": false, "color": "black", "strokeWidth": 3.5},
            "encoding": {
              "x": {"datum": -0.6, "type": "quantitative"},
              "x2": {"datum": 6.6},
              "y": {"datum": 1.13, "type": "quantitative"},
              "y2": {"datum": 1.385}
            }
          },
          {
            "transform": [{"filter": "datum.tr == '[U-13C]glucose' && datum.i == 0"}],
            "mark": {"type": "rect", "filled": false, "color": "black", "strokeWidth": 3.5},
            "encoding": {
              "x": {"datum": 14.185, "type": "quantitative"},
              "x2": {"datum": 14.775},
              "y": {"datum": -0.048, "type": "quantitative"},
              "y2": {"datum": 1.122}
            }
          },
          {
            "transform": [{"filter": "datum.tr == '[U-13C]glucose' && datum.i == 0"}],
            "mark": {"type": "rect", "filled": false, "color": "black", "strokeWidth": 3.5},
            "encoding": {
              "x": {"datum": 14.881, "type": "quantitative"},
              "x2": {"datum": 15.491},
              "y": {"datum": -0.048, "type": "quantitative"},
              "y2": {"datum": 1.122}
            }
          }
        ]
      }
    }
  ]
}
